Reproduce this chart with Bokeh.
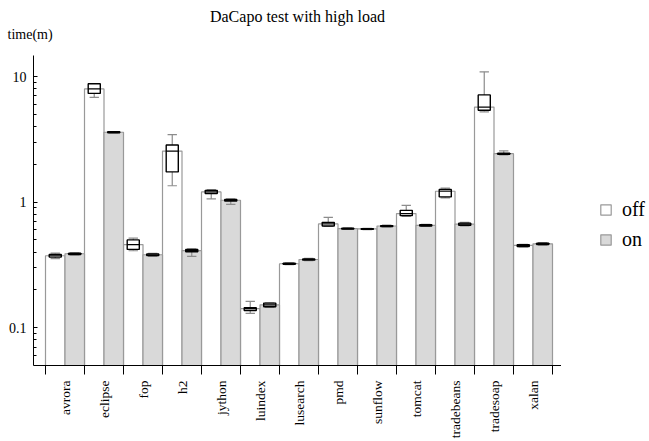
import math
from bokeh.plotting import figure
from bokeh.layouts import row
from bokeh.models import (Range1d, FixedTicker, ColumnDataSource, Legend, LegendItem, Title)
from bokeh.embed import file_html
from bokeh.resources import INLINE

benchmarks = ["avrora", "eclipse", "fop", "h2", "jython", "luindex", "lusearch",
              "pmd", "sunflow", "tomcat", "tradebeans", "tradesoap", "xalan"]

# "off" series (median / quartiles / whiskers), minutes
off_med = [0.374, 7.97, 0.459, 2.55, 1.205, 0.1416, 0.323, 0.67, 0.611, 0.81, 1.22, 5.71, 0.452]
off_q1 = [0.365, 7.34, 0.42, 1.74, 1.17, 0.137, 0.320, 0.645, 0.606, 0.78, 1.10, 5.39, 0.443]
off_q3 = [0.383, 8.75, 0.50, 2.85, 1.24, 0.144, 0.326, 0.69, 0.615, 0.86, 1.26, 7.14, 0.458]
off_lo = [0.355, 6.81, 0.41, 1.35, 1.06, 0.130, 0.318, 0.64, 0.603, 0.77, 1.08, 5.23, 0.44]
off_hi = [0.392, 8.75, 0.516, 3.45, 1.26, 0.162, 0.328, 0.755, 0.617, 0.943, 1.29, 10.9, 0.46]

# "on" series
on_med = [0.388, 3.60, 0.381, 0.411, 1.035, 0.152, 0.349, 0.615, 0.645, 0.652, 0.668, 2.43, 0.465]
on_q1 = [0.383, 3.57, 0.375, 0.402, 1.02, 0.147, 0.345, 0.61, 0.64, 0.645, 0.655, 2.40, 0.46]
on_q3 = [0.392, 3.63, 0.387, 0.42, 1.05, 0.157, 0.353, 0.62, 0.65, 0.66, 0.68, 2.45, 0.47]
on_lo = [0.38, 3.55, 0.37, 0.37, 0.96, 0.145, 0.342, 0.605, 0.635, 0.64, 0.645, 2.38, 0.455]
on_hi = [0.395, 3.65, 0.39, 0.425, 1.06, 0.158, 0.356, 0.625, 0.655, 0.665, 0.69, 2.56, 0.475]

y_major = [0.1, 1, 10]
y_labels = ["0.1", "1", "10"]
series_names = ["off", "on"]

FONT = "Liberation Serif"
BAR_LINE = "#999999"
OFF_FILL = "#ffffff"
ON_FILL = "#d9d9d9"

n = len(benchmarks)
idx = list(range(n))
baseline = 0.05

p = figure(width=561, height=441, output_backend="svg", toolbar_location=None,
           y_axis_type="log",
           x_range=Range1d(-12 / 39, 516 / 39), y_range=Range1d(baseline, 14.7),
           min_border_left=33, min_border_right=0, min_border_top=55, min_border_bottom=40)
p.title = None
p.xgrid.visible = False
p.ygrid.visible = False
p.outline_line_color = None
p.background_fill_color = "white"

def draw_series(offset, med, q1, q3, lo, hi, fill):
    cx = [i + offset for i in idx]
    src = ColumnDataSource(dict(
        x=cx, top=med, q1=q1, q3=q3, lo=lo, hi=hi,
        bl=[i + offset - 0.155 for i in idx], br=[i + offset + 0.155 for i in idx],
        cl=[i + offset - 0.12 for i in idx], cr=[i + offset + 0.12 for i in idx],
        bottom=[baseline] * n))
    p.vbar(x="x", width=0.5, top="top", bottom="bottom", source=src,
           fill_color=fill, line_color=BAR_LINE, line_width=1.2)
    p.segment(x0="x", x1="x", y0="lo", y1="hi", source=src, line_color="#8c8c8c", line_width=1.2)
    p.segment(x0="cl", x1="cr", y0="lo", y1="lo", source=src, line_color="#8c8c8c", line_width=1.2)
    p.segment(x0="cl", x1="cr", y0="hi", y1="hi", source=src, line_color="#8c8c8c", line_width=1.2)
    p.quad(left="bl", right="br", bottom="q1", top="q3", source=src,
           fill_color=fill, line_color="black", line_width=1.4)
    p.segment(x0="bl", x1="br", y0="top", y1="top", source=src, line_color="black", line_width=1.2)

draw_series(0.25, off_med, off_q1, off_q3, off_lo, off_hi, OFF_FILL)
draw_series(0.75, on_med, on_q1, on_q3, on_lo, on_hi, ON_FILL)

# x axis: labels at category centres, separator ticks between categories
xa = p.xaxis[0]
xa.ticker = FixedTicker(ticks=[i + 0.5 for i in idx], minor_ticks=list(range(n + 1)))
xa.major_label_overrides = {i + 0.5: b for i, b in enumerate(benchmarks)}
xa.major_label_orientation = math.pi / 2
xa.major_tick_line_color = None
xa.major_tick_out = 0
xa.major_tick_in = 0
xa.minor_tick_out = 9
xa.minor_tick_in = 0
xa.minor_tick_line_color = "black"
xa.major_label_standoff = 6
xa.major_label_text_font = FONT
xa.major_label_text_font_size = "13.5px"
xa.major_label_text_color = "black"
xa.axis_line_color = "black"

# y axis
ya = p.yaxis[0]
minor = [m * d for d in (0.01, 0.1, 1) for m in range(2, 10) if baseline < m * d < 14.7]
ya.ticker = FixedTicker(ticks=y_major, minor_ticks=minor)
ya.major_label_overrides = {v: s for v, s in zip(y_major, y_labels)}
ya.major_tick_in = 4
ya.major_tick_out = 0
ya.minor_tick_in = 3
ya.minor_tick_out = 0
ya.major_tick_line_color = "black"
ya.minor_tick_line_color = "black"
ya.axis_line_color = "black"
ya.major_label_standoff = 7
ya.major_label_text_font = FONT
ya.major_label_text_font_size = "14px"
ya.major_label_text_color = "black"

# titles (first added sits nearest the plot area)
p.add_layout(Title(text=" ", text_font=FONT, text_font_size="1px", standoff=10), "above")
p.add_layout(Title(text="time(m)", align="left", text_font=FONT, text_font_size="14px",
                   text_font_style="normal", text_color="black", standoff=1, offset=-26), "above")
p.add_layout(Title(text="DaCapo test with high load", align="center", text_font=FONT,
                   text_font_size="16px", text_font_style="normal", text_color="black",
                   standoff=0), "above")

# legend panel on the right (proxy renderers are hidden; only their legend swatches show)
lf = figure(width=88, height=441, output_backend="svg", toolbar_location=None,
            x_axis_location=None, y_axis_location=None,
            x_range=Range1d(0, 1), y_range=Range1d(0, 1),
            min_border_left=0, min_border_right=0, min_border_top=0, min_border_bottom=0)
lf.title = None
lf.xgrid.visible = False
lf.ygrid.visible = False
lf.outline_line_color = None
proxy = ColumnDataSource(dict(x=[0.5], top=[0.5]))
g_off = lf.vbar(x="x", top="top", width=0.5, source=proxy, fill_color=OFF_FILL,
                line_color=BAR_LINE, line_width=1.2, visible=False)
g_on = lf.vbar(x="x", top="top", width=0.5, source=proxy, fill_color=ON_FILL,
               line_color=BAR_LINE, line_width=1.2, visible=False)
legend = Legend(items=[LegendItem(label=series_names[0], renderers=[g_off]),
                       LegendItem(label=series_names[1], renderers=[g_on])],
                location=(38, 114), orientation="vertical",
                glyph_width=13, glyph_height=13, label_standoff=10, spacing=6, label_height=24,
                padding=0, margin=0, border_line_color=None, background_fill_alpha=0,
                label_text_font=FONT, label_text_font_size="20px", label_text_color="black")
lf.add_layout(legend, "center")

layout = row(p, lf)
open("out.html", "w").write(file_html(layout, INLINE))
